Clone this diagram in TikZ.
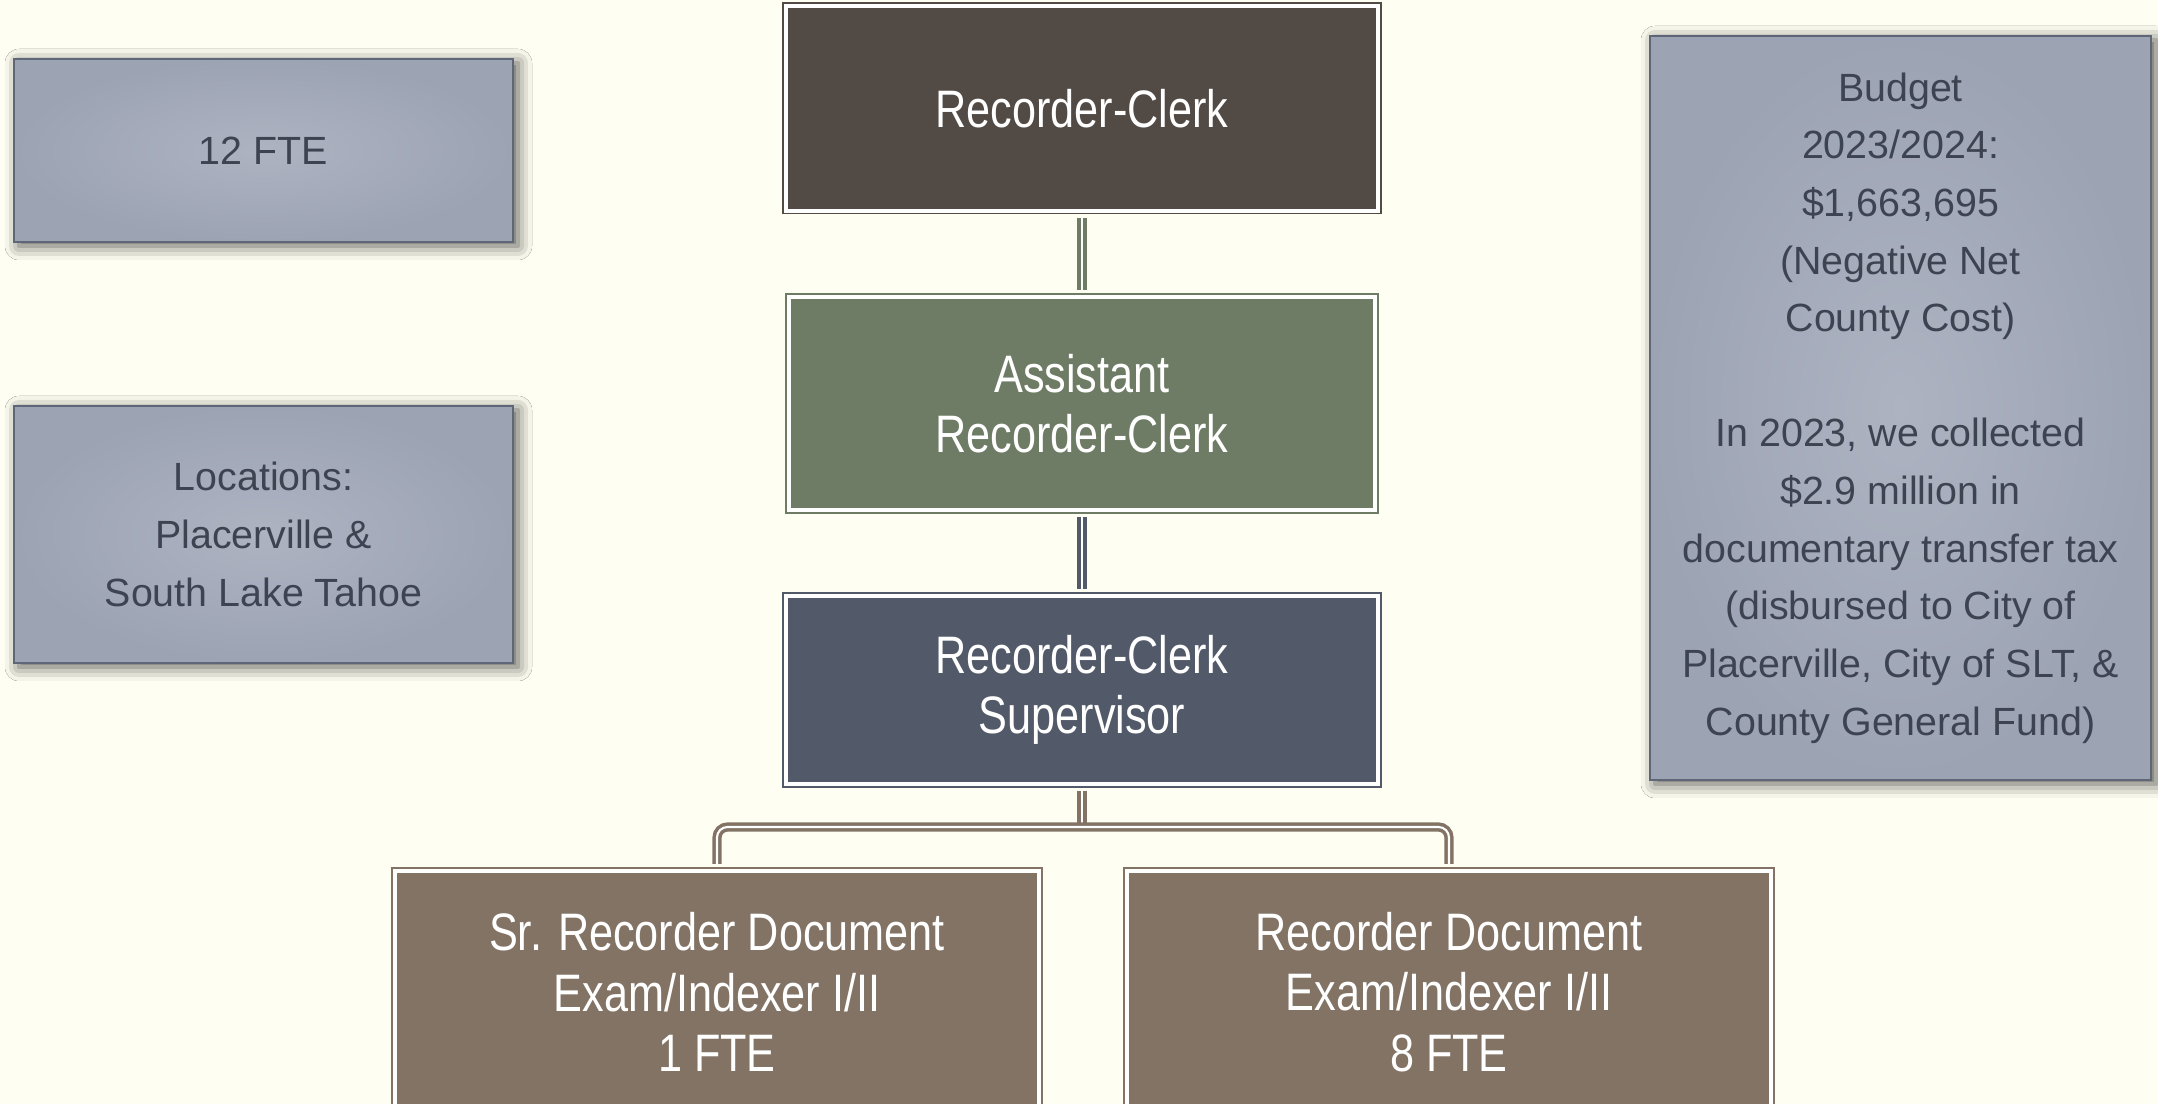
\documentclass[tikz,border=0pt]{standalone}
\usepackage{fontspec}
\setmainfont{Liberation Sans}
\newfontfamily\narrowsans[FakeStretch=0.82]{Liberation Sans}
\usetikzlibrary{positioning,shadows.blur}

\definecolor{paper}{HTML}{FEFEF2}
\definecolor{chiefbrown}{HTML}{524A44}
\definecolor{sagegreen}{HTML}{6E7B65}
\definecolor{slate}{HTML}{525A69}
\definecolor{clay}{HTML}{827365}
\definecolor{infofill}{HTML}{9CA3B3}
\definecolor{infolight}{HTML}{ADB3C1}
\definecolor{infoedge}{HTML}{5F6677}
\definecolor{infotext}{HTML}{3D4351}

\tikzset{
  post/.style={rectangle, fill=#1, draw=#1, double=white, double distance=1pt,
    line width=0.5pt, text=white, align=center, inner sep=0pt, outer sep=0pt,
    font=\narrowsans\fontsize{15}{17.2}\selectfont},
  info/.style={rectangle, draw=infoedge, line width=0.6pt, inner color=infolight,
    outer color=infofill, text=infotext, align=center,
    font=\fontsize{11.2}{16.4}\selectfont,
    blur shadow={shadow xshift=0.05cm, shadow yshift=-0.04cm,
      shadow blur radius=0.14cm, shadow opacity=65}},
  link/.style={draw=#1, double=white, double distance=0.6pt, line width=1pt,
    shorten <=0.07cm, shorten >=0.07cm}
}

\begin{document}
\begin{tikzpicture}[node distance=0.86cm]
  \fill[paper] (0,0) rectangle (21.58,-11.04);
  \useasboundingbox (0,0) rectangle (21.58,-11.04);

  % chain of command
  \node[post=chiefbrown, minimum width=5.92cm, minimum height=2.05cm] (clerk) at (10.82,-1.085) {Recorder-Clerk};
  \node[post=sagegreen, minimum width=5.86cm, minimum height=2.13cm] (assistant) [below=of clerk] {Assistant\\Recorder-Clerk};
  \node[post=slate, minimum width=5.92cm, minimum height=1.88cm] (supervisor) [below=of assistant] {Recorder-Clerk\\Supervisor};

  \node[post=clay, minimum width=6.44cm, minimum height=2.42cm] (senior) [below=0.87cm of supervisor, xshift=-3.65cm]
    {Sr. Recorder Document\\Exam/Indexer I/II\\1 FTE};
  \node[post=clay, minimum width=6.44cm, minimum height=2.42cm] (indexer) [below=0.87cm of supervisor, xshift=3.67cm]
    {Recorder Document\\Exam/Indexer I/II\\8 FTE};

  \draw[link=sagegreen] (clerk) -- (assistant);
  \draw[link=slate] (assistant) -- (supervisor);

  \coordinate[below=0.43cm of supervisor] (split);
  \draw[link=clay, shorten >=0pt] (supervisor) -- (split);
  \draw[link=clay, rounded corners=3pt] (senior) |- (split) -| (indexer);

  % side notes
  \node[info, minimum width=4.99cm, minimum height=1.83cm] (staff) at (2.635,-1.505) {12 FTE};
  \node[info, minimum width=4.99cm, minimum height=2.57cm] (sites) at (2.635,-5.345)
    {Locations:\\Placerville \&\\South Lake Tahoe};
  \node[info, minimum width=5.01cm, minimum height=7.44cm] (budget) at (19.005,-4.08)
    {Budget\\2023/2024:\\\$1,663,695\\(Negative Net\\County Cost)\\[16.4pt]
     In 2023, we collected\\\$2.9 million in\\documentary transfer tax\\(disbursed to City of\\Placerville, City of SLT, \&\\County General Fund)};
\end{tikzpicture}
\end{document}
